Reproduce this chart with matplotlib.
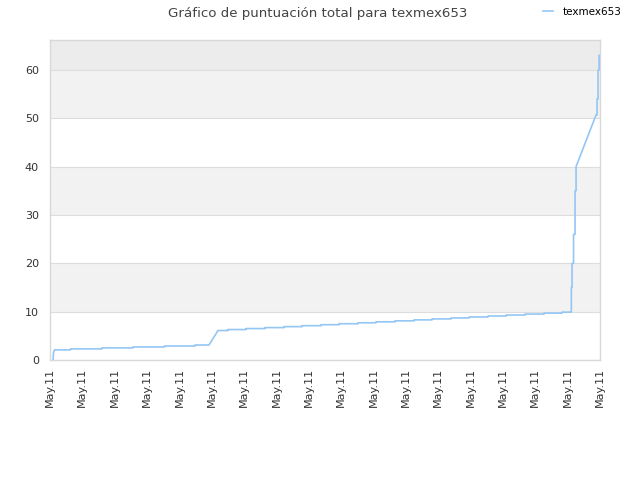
import matplotlib
matplotlib.use("Agg")
import matplotlib.pyplot as plt

# time in hours from start of axis (all on May.11)
times = [0.093, 0.108, 0.139, 0.634, 1.607, 2.566, 3.540, 4.482,
         4.915, 5.193,
         5.502, 6.059, 6.646, 7.233, 7.790, 8.377, 8.934, 9.521, 10.077,
         10.665, 11.252, 11.808, 12.396, 12.952, 13.539, 14.096, 14.683,
         15.270, 15.827,
         16.105, 16.114, 16.136, 16.182, 16.229, 16.260,
         16.878, 16.909, 16.940, 16.971]
scores = [0.0, 1.5, 2.1, 2.3, 2.5, 2.7, 2.9, 3.1,
          3.1, 6.1,
          6.3, 6.5, 6.7, 6.9, 7.1, 7.3, 7.5, 7.7, 7.9,
          8.1, 8.3, 8.5, 8.7, 8.9, 9.1, 9.3, 9.5,
          9.7, 9.9,
          10.0, 15.0, 20.0, 26.0, 35.0, 40.0,
          50.7, 54.0, 60.0, 63.0]
# whether the segment leading to a point is a gradual rise (True) or a step (False)
gradual = [False, True, True, False, False, False, False, False,
           False, True,
           False, False, False, False, False, False, False, False, False,
           False, False, False, False, False, False, False, False,
           False, False,
           False, False, False, False, False, False,
           True, False, False, False]
tick_pos = list(range(18))
tick_labels = ["May.11"] * 18
series_name = "texmex653"
title = "Gráfico de puntuación total para texmex653"

xs, ys = [times[0]], [scores[0]]
for i in range(1, len(times)):
    if not gradual[i]:
        xs.append(times[i]); ys.append(scores[i - 1])
    xs.append(times[i]); ys.append(scores[i])

fig = plt.figure(figsize=(6.4, 4.8), dpi=100)
ax = fig.add_axes([50/640, 120/480, 550/640, 320/480])

ymax = 66.2
for lo, hi, c in [(10, 20, "#f2f2f2"), (30, 40, "#f2f2f2"), (50, 60, "#f2f2f2"), (60, ymax, "#ececec")]:
    ax.axhspan(lo, hi, color=c, zorder=0, lw=0)
for y in range(0, 70, 10):
    ax.axhline(y, color="#dddddd", lw=0.8, zorder=1)

ax.plot(xs, ys, color="#94c6f4", lw=1.2, label=series_name, zorder=3)

ax.set_xlim(0, 17)
ax.set_ylim(0, ymax)
ax.set_yticks(range(0, 70, 10))
ax.set_xticks(tick_pos)
ax.set_xticklabels(tick_labels, rotation=90)
ax.tick_params(axis="both", length=0, labelsize=8, labelcolor="#333333")
ax.tick_params(axis="x", pad=6)
ax.tick_params(axis="y", pad=8)
for s in ax.spines.values():
    s.set_color("#d8d8d8")
    s.set_linewidth(1)

fig.text(0.497, 0.972, title, ha="center", va="center", fontsize=9.6, color="#444444")
leg = fig.legend(loc="center", bbox_to_anchor=(0.91, 0.975), frameon=False,
                 fontsize=7.5, handlelength=1.0, handletextpad=0.9)

fig.savefig("out.png", dpi=100)
